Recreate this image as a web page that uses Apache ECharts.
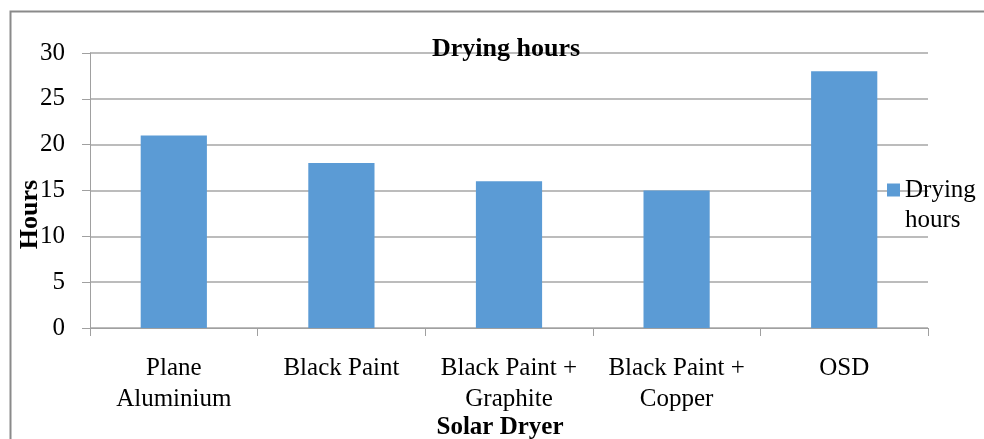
<!DOCTYPE html>
<html><head><meta charset="utf-8">
<script src="https://cdn.jsdelivr.net/npm/echarts@6/dist/echarts.min.js"></script>
<style>html,body{margin:0;padding:0;background:#fff;overflow:hidden}#c{width:984px;height:439px}</style>
</head><body><div id="c"></div>
<script>
const categories = ['Plane\nAluminium', 'Black Paint', 'Black Paint +\nGraphite', 'Black Paint +\nCopper', 'OSD'];
const dryingHours = [21, 18, 16, 15, 28];
const seriesName = 'Drying hours';
const yTicks = { min: 0, max: 30, interval: 5 };

const font = 'Liberation Serif, Times New Roman, serif';
const chart = echarts.init(document.getElementById('c'));
chart.setOption({
  animation: false,
  title: {
    text: 'Drying hours', left: 501, top: 31, textAlign: 'center',
    textStyle: { fontFamily: font, fontSize: 26, fontWeight: 'bold', color: '#000' }
  },
  graphic: [{
    type: 'rect', left: 8, top: 9, silent: true, z: -10,
    shape: { width: 990, height: 450 },
    style: { fill: 'none', stroke: '#8a8a8a', lineWidth: 2 }
  }],
  legend: {
    left: 882, top: 170, orient: 'vertical',
    itemWidth: 13, itemHeight: 43, itemGap: 4,
    icon: 'path://M0,0L13,0L13,13L0,13Z M0,43',
    formatter: () => 'Drying\nhours',
    textStyle: { fontFamily: font, fontSize: 25, color: '#000', lineHeight: 30 },
    data: [seriesName]
  },
  grid: { left: 90, right: 56, top: 53, bottom: 111, containLabel: false, outerBoundsMode: 'none' },
  xAxis: {
    type: 'category', data: categories,
    name: 'Solar Dryer', nameLocation: 'middle', nameGap: 87, nameMoveOverlap: false,
    nameTextStyle: { fontFamily: font, fontSize: 25, fontWeight: 'bold', color: '#000', padding: [0, 18, 0, 0] },
    axisLine: { lineStyle: { color: '#a0a0a0', width: 1 } },
    axisTick: { show: true, length: 8, alignWithLabel: false, lineStyle: { color: '#a0a0a0' } },
    axisLabel: { fontFamily: font, fontSize: 25, color: '#000', margin: 25, lineHeight: 31, interval: 0 }
  },
  yAxis: {
    type: 'value', min: yTicks.min, max: yTicks.max, interval: yTicks.interval,
    name: 'Hours', nameLocation: 'middle', nameGap: 47, nameRotate: 90, nameMoveOverlap: false,
    nameTextStyle: { fontFamily: font, fontSize: 26, fontWeight: 'bold', color: '#000', padding: [0, 0, 0, -48] },
    axisLine: { show: true, lineStyle: { color: '#a0a0a0', width: 1 } },
    axisTick: { show: true, length: 8, lineStyle: { color: '#a0a0a0' } },
    splitLine: { lineStyle: { color: '#a6a6a6', width: 1.5 } },
    axisLabel: { fontFamily: font, fontSize: 25, color: '#000', margin: 25 }
  },
  series: [{
    name: seriesName, type: 'bar', data: dryingHours,
    barWidth: '39.5%',
    itemStyle: { color: '#5B9BD5' }
  }]
});
</script></body></html>
